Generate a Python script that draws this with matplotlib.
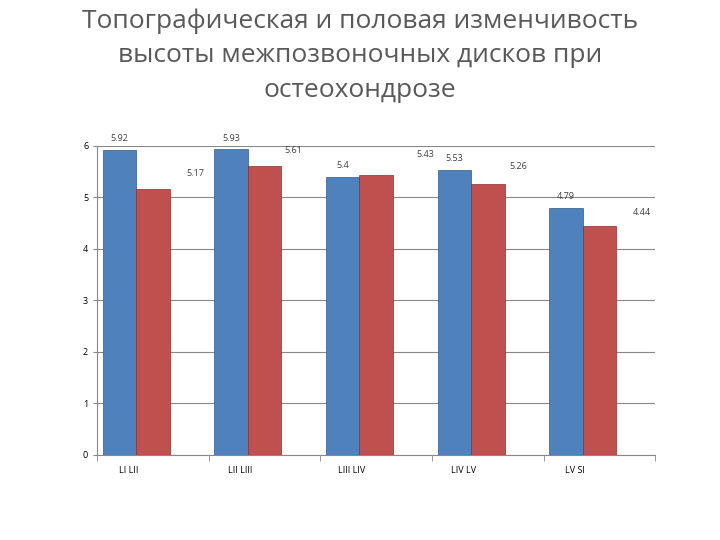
import matplotlib
matplotlib.use('Agg')
import matplotlib.pyplot as plt
import numpy as np

categories = ['LI LII', 'LII LIII', 'LIII LIV', 'LIV LV', 'LV SI']
blue_vals = [5.92, 5.93, 5.4, 5.53, 4.79]
red_vals = [5.17, 5.61, 5.43, 5.26, 4.44]

plt.rcParams['font.family'] = ['Open Sans', 'DejaVu Sans']

fig = plt.figure(figsize=(7.2, 5.4), dpi=100)
ax = fig.add_axes([0.135, 0.158, 0.775, 0.572])

x = np.arange(len(categories))
w = 0.3
shift = -0.15
ax.bar(x + shift - w/2, blue_vals, w, color='#4F81BD', edgecolor='#2E5A8C', linewidth=0.5, zorder=3)
ax.bar(x + shift + w/2, red_vals, w, color='#C0504D', edgecolor='#8C2E2B', linewidth=0.5, zorder=3)

# value labels (the original places the second series labels shifted right)
red_dx = [0.38, 0.26, 0.44, 0.27, 0.38]
red_dy = [0.30, 0.29, 0.41, 0.33, 0.26]
for i in range(len(categories)):
    ax.text(x[i] + shift - w/2, blue_vals[i] + 0.22, str(blue_vals[i]), ha='center', va='center', fontsize=6.5, color='#404040')
    ax.text(x[i] + shift + w/2 + red_dx[i], red_vals[i] + red_dy[i], str(red_vals[i]), ha='center', va='center', fontsize=6.5, color='#404040')

ax.set_xlim(-0.5, len(categories) - 0.5)
ax.set_ylim(0, 6)
ax.set_yticks(range(7))
ax.set_xticks(x - 0.22)
ax.set_xticklabels(categories, fontsize=6.5)
ax.set_xticks(np.arange(len(categories) + 1) - 0.5, minor=True)
ax.tick_params(axis='x', which='major', length=0, pad=8)
ax.tick_params(axis='x', which='minor', length=4, color='#888888')
ax.tick_params(axis='y', labelsize=6.5, length=3, color='#888888')
ax.grid(axis='y', color='#888888', linewidth=0.8, zorder=0)
for s in ['top', 'right']:
    ax.spines[s].set_visible(False)
ax.spines['left'].set_color('#888888')
ax.spines['bottom'].set_color('#888888')

fig.text(0.5, 0.985, 'Топографическая и половая изменчивость\nвысоты межпозвоночных дисков при\nостеохондрозе',
         ha='center', va='top', fontsize=19, color='#595959', linespacing=1.5)

fig.savefig('out.png', dpi=100)
